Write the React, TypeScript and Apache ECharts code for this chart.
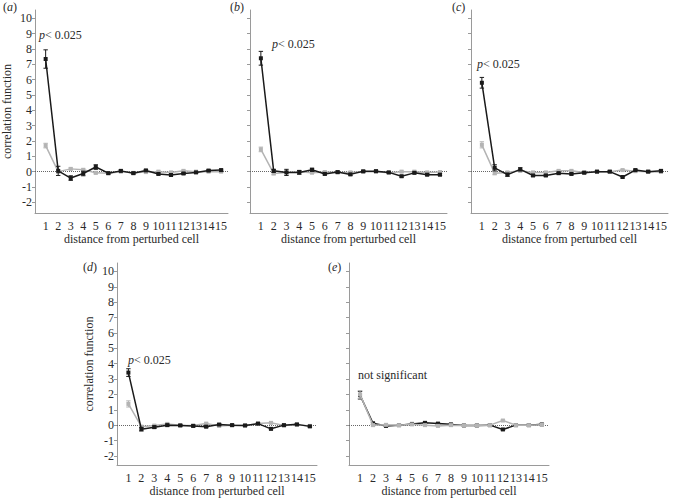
import React, { useEffect, useRef } from "react";
import * as echarts from "echarts";

const distances = [1, 2, 3, 4, 5, 6, 7, 8, 9, 10, 11, 12, 13, 14, 15];
const yTicks = [-2, -1, 0, 1, 2, 3, 4, 5, 6, 7, 8, 9, 10];
const panelLetters = ["a", "b", "c", "d", "e"];
const panelNotes = ["p", "p", "p", "p", "not significant"];

const blackA = [7.35, 0.05, -0.42, -0.12, 0.3, -0.1, 0.05, -0.1, 0.08, -0.15, -0.22, -0.12, -0.05, 0.07, 0.1];
const blackAErr = [0.6, 0.3, 0.15, 0.15, 0.15, 0.06, 0.06, 0.06, 0.06, 0.06, 0.06, 0.06, 0.06, 0.06, 0.06];
const grayA = [1.7, 0.0, 0.18, 0.12, -0.08, -0.1, 0.0, -0.08, -0.03, 0.0, -0.05, 0.05, 0.0, 0.0, 0.0];
const grayAErr = [0.15, 0.1, 0.06, 0.06, 0.06, 0.05, 0.05, 0.05, 0.05, 0.05, 0.05, 0.05, 0.05, 0.05, 0.05];

const blackB = [7.4, 0.05, -0.05, -0.05, 0.12, -0.15, -0.03, -0.18, 0.02, 0.03, -0.05, -0.3, -0.08, -0.2, -0.2];
const blackBErr = [0.45, 0.1, 0.2, 0.12, 0.1, 0.06, 0.06, 0.06, 0.06, 0.06, 0.06, 0.06, 0.06, 0.06, 0.06];
const grayB = [1.45, -0.12, -0.05, 0.0, -0.07, -0.03, -0.05, -0.05, 0.0, 0.0, -0.07, 0.0, 0.0, -0.05, -0.03];
const grayBErr = [0.15, 0.08, 0.05, 0.05, 0.05, 0.05, 0.05, 0.05, 0.05, 0.05, 0.05, 0.05, 0.05, 0.05, 0.05];

const blackC = [5.8, 0.25, -0.2, 0.15, -0.25, -0.25, -0.1, -0.15, -0.07, 0.0, 0.0, -0.35, 0.1, 0.0, 0.05];
const blackCErr = [0.35, 0.2, 0.1, 0.1, 0.06, 0.06, 0.06, 0.06, 0.06, 0.06, 0.06, 0.06, 0.06, 0.06, 0.06];
const grayC = [1.75, -0.1, -0.05, 0.05, -0.05, -0.05, 0.05, 0.05, -0.05, 0.0, 0.0, 0.1, 0.03, 0.0, -0.02];
const grayCErr = [0.2, 0.1, 0.05, 0.05, 0.05, 0.05, 0.05, 0.05, 0.05, 0.05, 0.05, 0.05, 0.05, 0.05, 0.05];

const blackD = [3.42, -0.26, -0.13, 0.0, -0.02, -0.05, -0.1, 0.04, 0.0, -0.02, 0.1, -0.24, 0.0, 0.05, -0.08];
const blackDErr = [0.25, 0.12, 0.08, 0.06, 0.06, 0.06, 0.06, 0.06, 0.05, 0.05, 0.05, 0.06, 0.05, 0.05, 0.05];
const grayD = [1.38, -0.1, -0.03, 0.08, 0.0, -0.03, 0.1, -0.05, 0.0, -0.03, 0.1, 0.15, -0.02, 0.02, -0.05];
const grayDErr = [0.2, 0.08, 0.05, 0.05, 0.05, 0.05, 0.05, 0.05, 0.05, 0.05, 0.05, 0.05, 0.05, 0.05, 0.05];

const blackE = [1.95, 0.12, -0.05, 0.0, 0.08, 0.15, 0.1, 0.05, -0.02, -0.02, 0.0, -0.28, 0.0, 0.0, 0.05];
const blackEErr = [0.25, 0.06, 0.05, 0.05, 0.05, 0.05, 0.05, 0.05, 0.05, 0.05, 0.05, 0.05, 0.05, 0.05, 0.05];
const grayE = [2.0, 0.0, 0.02, 0.0, 0.05, 0.0, -0.05, 0.0, -0.02, -0.02, 0.0, 0.3, 0.0, 0.0, 0.03];
const grayEErr = [0.25, 0.06, 0.05, 0.05, 0.05, 0.05, 0.05, 0.05, 0.05, 0.05, 0.05, 0.05, 0.05, 0.05, 0.05];

const blackSeries = [blackA, blackB, blackC, blackD, blackE];
const blackErrors = [blackAErr, blackBErr, blackCErr, blackDErr, blackEErr];
const graySeries = [grayA, grayB, grayC, grayD, grayE];
const grayErrors = [grayAErr, grayBErr, grayCErr, grayDErr, grayEErr];

const FONT = "Liberation Serif, Times New Roman, serif";
const BLACK = "#1a1a1a";
const GRAY = "#b4b4b4";
const AXIS = "#9a9a9a";
const TEXT = "#2a2a2a";

// layout per panel (pixels)
const layouts = [
  { left: 31, top: 10, width: 197, height: 203, xMin: 0.15, xMax: 15.55, yMin: -2.7, yMax: 10.55, showY: true, grayTop: false, note: { x: 39, y: 35 }, tag: { x: 3, y: 7 } },
  { left: 250, top: 10, width: 197, height: 203, xMin: 0.15, xMax: 15.55, yMin: -2.7, yMax: 10.55, showY: false, grayTop: false, note: { x: 272, y: 44 }, tag: { x: 230, y: 7 } },
  { left: 471, top: 10, width: 197, height: 203, xMin: 0.15, xMax: 15.55, yMin: -2.7, yMax: 10.55, showY: false, grayTop: false, note: { x: 477, y: 64 }, tag: { x: 452, y: 7 } },
  { left: 117, top: 263, width: 200, height: 204.5, xMin: 0.12, xMax: 15.55, yMin: -2.6, yMax: 10.55, showY: true, grayTop: false, note: { x: 128, y: 360 }, tag: { x: 83, y: 267 } },
  { left: 349, top: 263, width: 200, height: 204.5, xMin: 0.15, xMax: 15.55, yMin: -2.6, yMax: 10.55, showY: false, grayTop: true, note: { x: 358, y: 375 }, tag: { x: 328, y: 267 } },
];

function errorSeries(idx: number, values: number[], errs: number[], color: string, z: number) {
  return {
    type: "custom",
    xAxisIndex: idx,
    yAxisIndex: idx,
    z,
    silent: true,
    data: distances.map((d, i) => [d, values[i] - errs[i], values[i] + errs[i]]),
    encode: { x: 0, y: [1, 2] },
    renderItem: (params: any, api: any) => {
      const x = api.value(0);
      const lo = api.coord([x, api.value(1)]);
      const hi = api.coord([x, api.value(2)]);
      const cap = 2.2;
      const style = { stroke: color, lineWidth: 1 };
      return {
        type: "group",
        children: [
          { type: "line", shape: { x1: lo[0], y1: lo[1], x2: hi[0], y2: hi[1] }, style },
          { type: "line", shape: { x1: lo[0] - cap, y1: lo[1], x2: lo[0] + cap, y2: lo[1] }, style },
          { type: "line", shape: { x1: hi[0] - cap, y1: hi[1], x2: hi[0] + cap, y2: hi[1] }, style },
        ],
      };
    },
  };
}

export default function App() {
  const ref = useRef<HTMLDivElement>(null);
  useEffect(() => {
    if (!ref.current) return;
    const chart = echarts.init(ref.current, null, { renderer: "svg" });

    const grids: any[] = [];
    const xAxes: any[] = [];
    const yAxes: any[] = [];
    const series: any[] = [];
    const graphics: any[] = [];

    layouts.forEach((L, idx) => {
      grids.push({ left: L.left, top: L.top, width: L.width, height: L.height, containLabel: false });
      xAxes.push({
        type: "value",
        gridIndex: idx,
        min: L.xMin,
        max: L.xMax,
        splitLine: { show: false },
        axisLine: { show: true, onZero: false, lineStyle: { color: AXIS, width: 1 } },
        axisTick: { show: false },
        axisLabel: { customValues: distances, color: TEXT, fontFamily: FONT, fontSize: 12, margin: 7 },
        name: "distance from perturbed cell",
        nameLocation: "middle",
        nameGap: 18,
        nameTextStyle: { color: TEXT, fontFamily: FONT, fontSize: 12 },
      });
      yAxes.push({
        type: "value",
        gridIndex: idx,
        min: L.yMin,
        max: L.yMax,
        splitLine: { show: false },
        axisLine: { show: true, lineStyle: { color: AXIS, width: 1 } },
        axisTick: { show: true, customValues: yTicks, length: 3, lineStyle: { color: AXIS } },
        axisLabel: { show: L.showY, customValues: yTicks, color: TEXT, fontFamily: FONT, fontSize: 12, margin: 3 },
        name: L.showY ? "correlation function" : "",
        nameLocation: "middle",
        nameRotate: 90,
        nameGap: 22,
        nameTextStyle: { color: TEXT, fontFamily: FONT, fontSize: 12 },
      });

      const bz = L.grayTop ? 3 : 5;
      const gz = L.grayTop ? 5 : 3;

      series.push(errorSeries(idx, graySeries[idx], grayErrors[idx], GRAY, gz));
      series.push({
        type: "line",
        xAxisIndex: idx,
        yAxisIndex: idx,
        z: gz,
        data: distances.map((d, i) => [d, graySeries[idx][i]]),
        symbol: "rect",
        symbolSize: 4,
        showSymbol: true,
        lineStyle: { color: GRAY, width: 1.5 },
        itemStyle: { color: GRAY },
        silent: true,
      });
      series.push(errorSeries(idx, blackSeries[idx], blackErrors[idx], BLACK, bz));
      series.push({
        type: "line",
        xAxisIndex: idx,
        yAxisIndex: idx,
        z: bz,
        data: distances.map((d, i) => [d, blackSeries[idx][i]]),
        symbol: "rect",
        symbolSize: 4,
        showSymbol: true,
        lineStyle: { color: BLACK, width: 1.5 },
        itemStyle: { color: BLACK },
        silent: true,
        markLine: {
          silent: true,
          symbol: ["none", "none"],
          label: { show: false },
          lineStyle: { type: "dotted", color: "#666", width: 1 },
          data: [{ yAxis: 0 }],
          z: 1,
        },
      });

      const richItalic = { i: { fontStyle: "italic", fontFamily: FONT, fontSize: 12, fill: TEXT }, n: { fontStyle: "normal", fontFamily: FONT, fontSize: 12, fill: TEXT } };
      graphics.push({
        type: "text",
        x: L.tag.x,
        y: L.tag.y,
        style: {
          text: "{n|(}{i|" + panelLetters[idx] + "}{n|)}",
          fontFamily: FONT,
          fontSize: 12,
          fill: TEXT,
          verticalAlign: "middle",
          align: "left",
          rich: richItalic,
        },
      });
      const note = panelNotes[idx];
      graphics.push({
        type: "text",
        x: L.note.x,
        y: L.note.y,
        style:
          note === "p"
            ? {
                text: "{i|p}{n|< 0.025}",
                fontFamily: FONT,
                fontSize: 12,
                fill: TEXT,
                verticalAlign: "middle",
                align: "left",
                rich: richItalic,
              }
            : { text: note, fontFamily: FONT, fontSize: 12, fill: TEXT, verticalAlign: "middle", align: "left" },
      });
    });

    chart.setOption({
      animation: false,
      backgroundColor: "#ffffff",
      textStyle: { fontFamily: FONT },
      grid: grids,
      xAxis: xAxes,
      yAxis: yAxes,
      series,
      graphic: graphics,
    });
    return () => chart.dispose();
  }, []);
  return <div ref={ref} style={{ position: "absolute", left: 0, top: 0, width: 673, height: 498 }} />;
}
